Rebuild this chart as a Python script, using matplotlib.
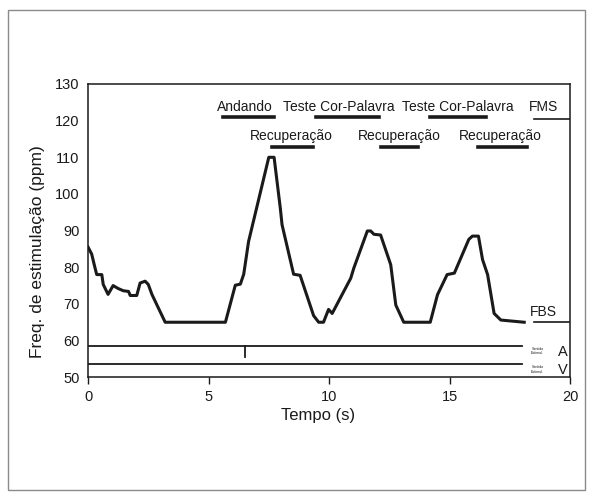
import matplotlib
matplotlib.use("Agg")
import matplotlib.pyplot as plt
from matplotlib.patches import Rectangle

plt.rcParams['font.family'] = ['Liberation Sans', 'DejaVu Sans']

# curve: stimulation frequency over time
tempo = [0, 0.15, 0.29, 0.36, 0.57, 0.63, 0.83, 1.04, 1.25, 1.46, 1.68, 1.75,
         2.02, 2.16, 2.37, 2.5, 2.65, 3.2, 5.7, 6.11, 6.32, 6.46, 6.66, 7.5,
         7.72, 7.98, 8.05, 8.53, 8.8, 9.36, 9.57, 9.77, 9.98, 10.13, 10.9, 11.03,
         11.59, 11.73, 11.86, 12.14, 12.56, 12.77, 13.1, 14.2, 14.5, 14.9,
         15.2, 15.8, 15.95, 16.2, 16.37, 16.58, 16.85, 17.13, 18.1]
freq = [85.5, 83.6, 79.8, 78, 78, 75.3, 72.6, 75, 74.2, 73.6, 73.4, 72.3,
        72.3, 75.7, 76.2, 75.3, 72.6, 65, 65, 75.1, 75.4, 78.1, 87, 110,
        110, 96, 91.6, 78.1, 77.8, 66.8, 65, 65, 68.5, 67.4, 77, 79.8,
        89.9, 89.9, 89, 88.8, 80.7, 69.7, 65, 65, 72.5, 78,
        78.4, 87.6, 88.5, 88.5, 82.1, 78, 67.4, 65.6, 65]

# phase bars (top row and second row)
fases_top = ["Andando", "Teste Cor-Palavra", "Teste Cor-Palavra"]
fases_top_ini = [5.6, 9.44, 14.2]
fases_top_fim = [7.7, 12.06, 16.5]
fases_top_txt_x = [6.5, 10.4, 15.35]
recup = ["Recuperação", "Recuperação", "Recuperação"]
recup_ini = [7.65, 12.14, 16.2]
recup_fim = [9.35, 13.68, 18.2]
recup_txt_x = [8.45, 12.9, 17.1]
y_top_bar, y_top_txt = 120.9, 123.6
y_rec_bar, y_rec_txt = 112.9, 115.7

fms, fbs = 120.5, 65
canal_a, canal_v = 58.6, 53.6
evento_a = 6.5

cor = '#1a1a1a'
fig = plt.figure(figsize=(5.95, 4.97), dpi=100)
ax = fig.add_axes([0.148, 0.241, 0.81, 0.59])

ax.plot(tempo, freq, color=cor, lw=2.2, solid_joinstyle='round')

for nome, a, b, tx in zip(fases_top, fases_top_ini, fases_top_fim, fases_top_txt_x):
    ax.plot([a, b], [y_top_bar, y_top_bar], color=cor, lw=2.6)
    ax.text(tx, y_top_txt, nome, ha='center', va='center', fontsize=10, color=cor)
for nome, a, b, tx in zip(recup, recup_ini, recup_fim, recup_txt_x):
    ax.plot([a, b], [y_rec_bar, y_rec_bar], color=cor, lw=2.6)
    ax.text(tx, y_rec_txt, nome, ha='center', va='center', fontsize=10, color=cor)

# FMS / FBS limits
ax.plot([18.5, 20], [fms, fms], color=cor, lw=1.2)
ax.text(18.9, 123.6, "FMS", ha='center', va='center', fontsize=10, color=cor)
ax.plot([18.5, 20], [fbs, fbs], color=cor, lw=1.2)
ax.text(18.9, 67.9, "FBS", ha='center', va='center', fontsize=10, color=cor)

# marker channels
ax.plot([0, 18], [canal_a, canal_a], color=cor, lw=1.3)
ax.plot([0, 18], [canal_v, canal_v], color=cor, lw=1.3)
ax.plot([evento_a, evento_a], [canal_a, 55.5], color=cor, lw=1.3)
for yc, lab in [(canal_a, "A"), (canal_v, "V")]:
    ax.text(18.65, yc - 1.5, "Sentido\nEstimul.", ha='center', va='center',
            fontsize=2.6, color=cor, linespacing=1.2)
    ax.text(19.7, yc - 1.7, lab, ha='center', va='center', fontsize=10.5, color=cor)

ax.set_xlim(0, 20)
ax.set_ylim(50, 130)
ax.set_xticks([0, 5, 10, 15, 20])
ax.set_yticks(range(50, 131, 10))
ax.tick_params(axis='x', direction='out', length=5, width=1, labelsize=10.5,
               colors=cor, pad=4)
ax.tick_params(axis='y', length=0, labelsize=10.5, colors=cor, pad=6)
for s in ax.spines.values():
    s.set_linewidth(1.1)
    s.set_color(cor)
ax.set_xlabel("Tempo (s)", fontsize=12, color=cor)
ax.xaxis.set_label_coords(0.477, -0.105)
ax.set_ylabel("Freq. de estimulação (ppm)", fontsize=12.5, color=cor)
ax.yaxis.set_label_coords(-0.09, 0.43)

# outer frame
fig.patches.append(Rectangle((8 / 595, 7 / 497), 577 / 595, 480 / 497,
                             transform=fig.transFigure, fill=False,
                             edgecolor='#8a8a8a', lw=1.0))

fig.savefig("out.png", dpi=100)
